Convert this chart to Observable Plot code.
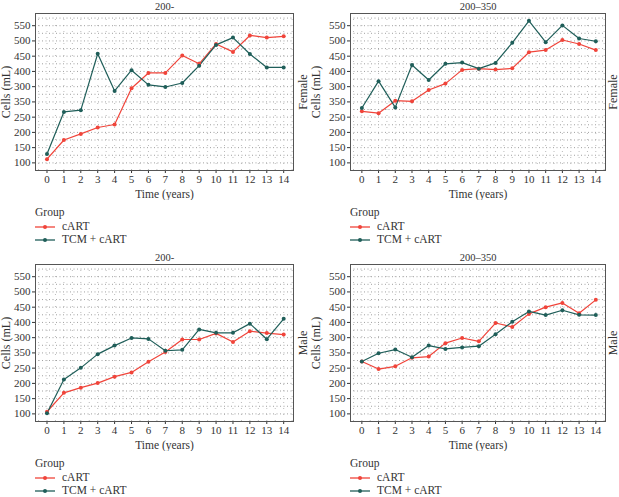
<!DOCTYPE html>
<html>
<head>
<meta charset="utf-8">
<script src="https://cdn.jsdelivr.net/npm/d3@7"></script>
<script src="https://cdn.jsdelivr.net/npm/@observablehq/plot@0.6"></script>
<style>
  body { margin: 0; background: #fff; font-family: "Liberation Serif", "Times New Roman", Times, serif; }
  #wrap { position: relative; width: 619px; height: 497px; overflow: hidden; }
  .panel { position: absolute; }
  .legend { position: absolute; font-size: 11.5px; color: #333; line-height: 13px; }
  .legend .ttl { margin-bottom: 1px; }
  .legend .item { display: flex; align-items: center; height: 13px; }
  .legend svg { margin-right: 7px; }
</style>
</head>
<body>
<div id="wrap"></div>
<script>
const years = [0,1,2,3,4,5,6,7,8,9,10,11,12,13,14];
const groups = ["cART", "TCM + cART"];
const groupColors = ["#f0443a", "#1f5e59"];
const yTicks = [100,150,200,250,300,350,400,450,500,550];
const yTickLabels = ["100","150","200","250","350","300","400","450","500","550"];
const panelTitles = ["200-", "200\u2013350", "200-", "200\u2013350"];
const panelSex = ["Female", "Female", "Male", "Male"];
const xLabel = "Time (years)";
const yLabel = "Cells (mL)";

// Female, 200-
const femaleLowCART = [112,175,195,216,226,345,395,395,452,425,490,464,518,511,515];
const femaleLowTCM  = [129,267,273,458,336,404,356,349,362,419,487,511,457,413,413];
// Female, 200–350
const femaleMidCART = [269,263,304,302,339,360,405,409,406,410,463,470,503,490,470];
const femaleMidTCM  = [280,368,282,421,372,425,429,409,428,494,566,496,551,508,499];
// Male, 200-
const maleLowCART = [107,169,186,201,222,236,271,303,344,344,364,336,371,365,360];
const maleLowTCM  = [102,213,251,296,324,349,346,307,310,377,366,366,396,345,412];
// Male, 200–350
const maleMidCART = [272,247,256,284,288,332,349,338,398,385,428,450,464,430,474];
const maleMidTCM  = [272,299,311,286,324,313,318,322,361,402,436,424,440,425,424];

const panelSeries = [
  [femaleLowCART, femaleLowTCM],
  [femaleMidCART, femaleMidTCM],
  [maleLowCART, maleLowTCM],
  [maleMidCART, maleMidTCM]
];

const positions = [
  {left: 0,   top: 0,   ml: 35, mr: 17, w: 310, sdx: 10},
  {left: 310, top: 0,   ml: 40, mr: 14, w: 309, sdx: 8},
  {left: 0,   top: 251, ml: 35, mr: 17, w: 310, sdx: 10},
  {left: 310, top: 251, ml: 40, mr: 14, w: 309, sdx: 8}
];

const wrap = document.getElementById("wrap");
const font = "'Liberation Serif', 'Times New Roman', Times, serif";

panelSeries.forEach((series, p) => {
  const pos = positions[p];
  const rows = [];
  series.forEach((vals, g) => vals.forEach((v, i) => rows.push({t: years[i], v, g: groups[g]})));
  const chart = Plot.plot({
    width: pos.w,
    height: 200,
    marginTop: 13,
    marginBottom: 30,
    marginLeft: pos.ml,
    marginRight: pos.mr,
    style: {fontFamily: font, fontSize: "11px", color: "#333", background: "transparent"},
    x: {domain: [-0.68, 14.58], ticks: years, tickSize: 3, tickPadding: 2, tickFormat: d => String(d), label: null},
    y: {domain: [75, 590], ticks: yTicks, tickSize: 3, tickPadding: 2, tickFormat: (d, i) => yTickLabels[i], label: null},
    color: {domain: groups, range: groupColors},
    marks: [
      Plot.ruleY(d3.range(75, 590, 25), {stroke: "#888", strokeDasharray: "1,2.5", strokeWidth: 0.8}),
      Plot.ruleX(d3.range(-0.5, 14.6, 0.5), {stroke: "#aaa", strokeDasharray: "1,5", strokeWidth: 0.8}),
      Plot.frame({stroke: "#555", strokeWidth: 1}),
      Plot.line(rows, {x: "t", y: "v", z: "g", stroke: "g", strokeWidth: 1.2}),
      Plot.dot(rows, {x: "t", y: "v", fill: "g", r: 2}),
      Plot.text([panelTitles[p]], {text: d => d, frameAnchor: "top", dy: -7, fontSize: 10.5, textAnchor: "middle", lineAnchor: "middle"}),
      Plot.text([panelSex[p]], {text: d => d, frameAnchor: "right", dx: pos.sdx, rotate: -90, fontSize: 12, textAnchor: "middle", lineAnchor: "middle"}),
      Plot.text([yLabel], {text: d => d, frameAnchor: "left", dx: -pos.ml + 6, rotate: -90, fontSize: 12, textAnchor: "middle", lineAnchor: "middle"}),
      Plot.text([xLabel], {text: d => d, frameAnchor: "bottom", dy: 24, fontSize: 11.5, textAnchor: "middle", lineAnchor: "middle"})
    ]
  });
  const div = document.createElement("div");
  div.className = "panel";
  div.style.left = pos.left + "px";
  div.style.top = pos.top + "px";
  div.appendChild(chart);
  wrap.appendChild(div);

  const leg = document.createElement("div");
  leg.className = "legend";
  leg.style.left = (pos.left + pos.ml) + "px";
  leg.style.top = (pos.top + 206) + "px";
  let html = '<div class="ttl">Group</div>';
  groups.forEach((g, i) => {
    html += `<div class="item"><svg width="20" height="8"><line x1="0" x2="20" y1="4" y2="4" stroke="${groupColors[i]}" stroke-width="1.3"/><circle cx="10" cy="4" r="2" fill="${groupColors[i]}"/></svg><span>${g}</span></div>`;
  });
  leg.innerHTML = html;
  wrap.appendChild(leg);
});
</script>
</body>
</html>
